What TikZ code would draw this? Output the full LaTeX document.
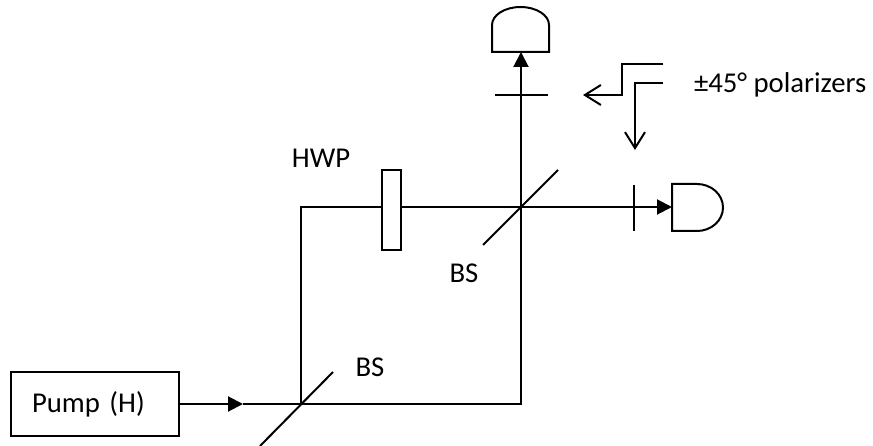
\documentclass[tikz,border=0pt]{standalone}
\usepackage{fontspec}
\setmainfont{Carlito}
\usetikzlibrary{arrows.meta}
\begin{document}
\begin{tikzpicture}[x=1pt,y=-1pt,>={Triangle[length=15pt,width=15pt]},line join=miter,line width=2pt,font=\fontsize{28.7}{34}\selectfont,
	lbl/.style={anchor=base,inner sep=0pt},
	barb/.style={-{Straight Barb[length=16pt,width=20pt]}}]
	\useasboundingbox (0,0) rectangle (873,446);
	\path 
	(301,404)coordinate(bsa) 
	(521,404)coordinate(ca)
	(301,207)coordinate(cb)
	(521,207)coordinate(bsb)
	(243,404)coordinate(pin)
	(521,52)coordinate(dup)
	(672,207)coordinate(drt)
	;
	% pump
	\node[draw,minimum height=64pt,text width=126pt,inner xsep=21pt,align=left] (pump) at (95,404) {Pump (H)};
	\draw[->] (pump.east)--(pin);
	% beam paths
	\draw (pin)--(bsa)--(ca)--(bsb);
	\draw[->] (bsb)--(dup);
	\draw (bsa)--(cb)--(bsb);
	\draw[->] (bsb)--(drt);
	% beam splitters
	\draw (260,446)--(333,372);
	\draw (483,245)--(558,170);
	% half-wave plate
	\node[draw,fill=white,minimum width=19pt,minimum height=80pt,inner sep=0pt] (hwp) at (391.5,210) {};
	% detectors
	\draw (492,52)--(492,25) arc[start angle=180,end angle=360,x radius=28.5,y radius=18]--(549,52)--cycle;
	\draw (672,184)--(697,184) arc[start angle=-90,end angle=90,x radius=26,y radius=23.5]--(672,231)--cycle;
	% polarizers
	\draw (495,95)--(548,95);
	\draw (634,185)--(634,231);
	\draw[barb] (663,64)--(622,64)--(622,95)--(583,95);
	\draw[barb] (663,83)--(635,83)--(635,150);
	% labels
	\node[lbl] (hwpl) at (321,168) {HWP};
	\node[lbl] (bsbl) at (464,283) {BS};
	\node[lbl] (bsal) at (370,376) {BS};
	\node[lbl,anchor=base west] (poll) at (693,93) {±45° polarizers};
\end{tikzpicture}
\end{document}
